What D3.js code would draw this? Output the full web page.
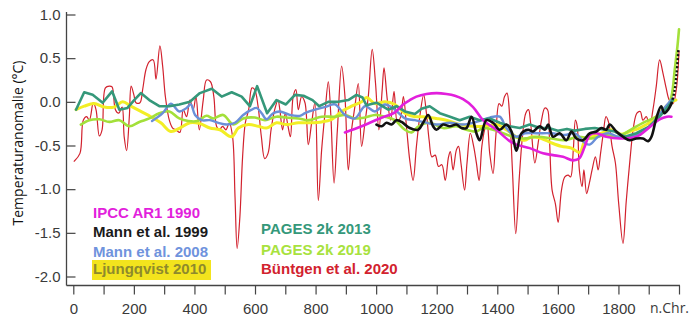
<!DOCTYPE html>
<html>
<head>
<meta charset="utf-8">
<script src="https://cdn.jsdelivr.net/npm/d3@7/dist/d3.min.js"></script>
<style>
  html, body { margin: 0; padding: 0; background: #fff; }
  svg { display: block; }
  .tick text { font-family: "Liberation Sans", Arial, sans-serif; font-size: 15px; fill: #3a3a3a; }
  .tick line { stroke: #444; stroke-width: 1.2; }
  .legend text { font-family: "Liberation Sans", Arial, sans-serif; font-size: 15px; font-weight: bold; }
</style>
</head>
<body>
<svg id="chart" width="700" height="329"></svg>
<script>
// Temperature reconstructions, anomaly in °C, [year, value]
const buentgen2020 = [
  [3,-0.68],[22,-0.59],[33,-0.21],[44,-0.17],[53,-0.21],[66,-0.01],[75,-0.09],[86,-0.39],[95,-0.32],
  [106,0.16],[119,0.18],[128,0.17],[139,-0.09],[150,-0.13],[161,-0.06],[168,-0.40],[176,-0.56],[185,-0.17],
  [191,0.18],[200,0.08],[207,-0.01],[220,-0.01],[229,0.14],[240,0.37],[251,0.46],[264,0.48],[273,0.26],
  [286,0.64],[295,0.41],[304,0.06],[317,-0.21],[328,-0.30],[339,-0.32],[352,-0.35],[363,-0.09],[374,-0.17],
  [385,0.02],[396,-0.09],[405,0.06],[416,-0.32],[429,0.02],[440,0.25],[453,0.23],[464,0.06],[473,-0.28],
  [482,-0.32],[493,-0.28],[504,-0.32],[515,-0.24],[526,-0.40],[534,-1.09],[541,-1.68],[550,-1.32],[559,-0.63],
  [568,-0.24],[579,-0.09],[590,0.16],[599,0.14],[610,-0.05],[621,-0.40],[632,-0.65],[643,-0.59],[653,-0.32],
  [665,-0.09],[676,0.02],[682,-0.09],[691,-0.32],[700,-0.13],[709,-0.28],[717,-0.40],[726,0.06],[735,0.14],
  [743,-0.09],[754,0.06],[765,-0.01],[776,-0.49],[787,-0.24],[798,-0.01],[809,-1.13],[820,-0.55],[831,-0.13],
  [842,0.23],[850,-0.13],[861,-0.93],[872,-0.32],[886,0.41],[897,0.06],[908,-0.78],[919,-0.32],[930,-0.05],
  [941,0.21],[952,-0.51],[963,-0.24],[974,0.06],[987,0.60],[998,0.21],[1009,-0.32],[1020,0.14],[1026,0.39],
  [1037,0.02],[1048,-0.21],[1059,0.12],[1070,-0.24],[1081,-0.17],[1090,0.06],[1101,-0.32],[1111,-0.67],
  [1122,-0.90],[1133,-0.51],[1144,-0.17],[1157,0.08],[1166,-0.13],[1175,-0.44],[1184,-0.63],[1195,-0.61],
  [1206,-0.74],[1217,-0.72],[1228,-0.90],[1239,-0.63],[1245,-0.57],[1254,-0.78],[1265,-0.55],[1272,-0.51],
  [1280,-0.70],[1292,-1.01],[1300,-0.70],[1311,-0.36],[1322,-0.51],[1331,-0.70],[1340,-0.90],[1349,-0.51],
  [1358,-0.32],[1366,-0.24],[1375,-0.59],[1386,-0.82],[1395,-0.40],[1406,-0.02],[1415,-0.05],[1424,0.06],
  [1432,0.10],[1441,-0.17],[1450,-0.78],[1461,-1.51],[1472,-0.90],[1483,-0.40],[1494,-0.13],[1503,-0.09],
  [1510,-0.24],[1524,-0.70],[1535,-0.47],[1546,-0.21],[1557,-0.07],[1566,-0.09],[1572,-0.40],[1581,-1.01],
  [1592,-1.17],[1601,-1.38],[1612,-1.01],[1623,-0.86],[1634,-0.84],[1642,-0.86],[1651,-0.55],[1658,-0.21],
  [1664,-0.28],[1671,-0.78],[1680,-0.97],[1686,-0.78],[1695,-1.05],[1704,-0.93],[1713,-0.78],[1724,-0.63],
  [1733,-0.78],[1741,-0.59],[1750,-0.36],[1759,-0.17],[1768,-0.24],[1779,-0.51],[1790,-0.70],[1801,-1.17],
  [1815,-1.62],[1826,-1.13],[1839,-0.63],[1850,-0.28],[1861,-0.13],[1872,-0.11],[1881,-0.21],[1892,-0.17],
  [1903,-0.28],[1914,-0.09],[1925,0.18],[1936,0.48],[1947,0.33],[1958,0.15],[1968,0.02],[1980,-0.02],
  [1991,0.14],[2000,0.58]
];

const pages2013 = [
  [9,-0.09],[36,0.11],[64,0.08],[97,-0.01],[128,0.12],[152,-0.09],[179,-0.07],[201,0.02],[223,0.10],
  [251,0.02],[284,-0.05],[317,-0.05],[350,-0.03],[385,0.00],[418,0.10],[457,0.15],[490,0.06],[523,0.11],
  [556,0.06],[583,-0.05],[607,0.18],[640,-0.13],[671,0.02],[702,-0.03],[732,0.08],[760,0.07],[790,0.02],
  [812,-0.05],[842,0.00],[875,0.00],[908,0.02],[935,0.08],[955,0.05],[968,-0.04],[1001,-0.01],[1040,-0.09],
  [1067,-0.05],[1095,-0.11],[1128,-0.14],[1150,-0.08],[1177,-0.05],[1210,-0.13],[1244,-0.17],[1276,-0.21],
  [1309,-0.17],[1342,-0.21],[1375,-0.19],[1408,-0.24],[1441,-0.28],[1474,-0.30],[1507,-0.26],[1540,-0.30],
  [1570,-0.30],[1600,-0.33],[1630,-0.31],[1656,-0.33],[1689,-0.31],[1722,-0.30],[1755,-0.32],[1788,-0.34],
  [1821,-0.40],[1859,-0.36],[1903,-0.28],[1936,-0.17],[1964,-0.05],[1980,0.02]
];

const pages2019 = [
  [25,-0.26],[53,-0.21],[86,-0.20],[119,-0.23],[152,-0.21],[185,-0.28],[218,-0.23],[251,-0.19],[284,-0.13],
  [317,-0.11],[350,-0.19],[380,-0.22],[410,-0.22],[440,-0.16],[462,-0.19],[495,-0.15],[528,-0.26],[561,-0.19],
  [600,-0.18],[633,-0.21],[671,-0.17],[704,-0.18],[743,-0.19],[776,-0.21],[820,-0.17],[864,-0.17],[897,-0.15],
  [930,-0.19],[963,-0.18],[996,-0.15],[1029,-0.17],[1062,-0.21],[1095,-0.32],[1117,-0.35],[1140,-0.28],
  [1177,-0.24],[1221,-0.30],[1265,-0.28],[1298,-0.32],[1331,-0.34],[1353,-0.30],[1386,-0.32],[1419,-0.36],
  [1452,-0.40],[1485,-0.42],[1535,-0.40],[1579,-0.42],[1623,-0.44],[1667,-0.40],[1711,-0.42],[1755,-0.38],
  [1799,-0.40],[1840,-0.32],[1881,-0.24],[1925,-0.17],[1958,-0.09],[1975,0.06],[1986,0.37],[1995,0.64],
  [2000,0.83]
];

const ljungqvist2010 = [
  [9,-0.09],[36,-0.05],[69,-0.02],[102,-0.06],[135,-0.06],[163,0.00],[190,-0.05],[223,-0.11],[256,-0.17],
  [289,-0.24],[322,-0.34],[352,-0.30],[385,-0.24],[418,-0.25],[451,-0.30],[484,-0.32],[523,-0.40],[545,-0.30],
  [578,-0.26],[611,-0.28],[638,-0.30],[671,-0.24],[704,-0.26],[743,-0.24],[776,-0.24],[820,-0.23],[853,-0.20],
  [886,-0.11],[919,-0.05],[952,0.00],[968,0.05],[996,-0.02],[1029,0.00],[1062,-0.03],[1095,-0.13],[1128,-0.17],
  [1155,-0.17],[1199,-0.19],[1232,-0.21],[1276,-0.26],[1320,-0.28],[1364,-0.28],[1397,-0.26],[1430,-0.32],
  [1463,-0.40],[1491,-0.44],[1513,-0.40],[1546,-0.42],[1579,-0.47],[1612,-0.51],[1645,-0.53],[1672,-0.58],
  [1690,-0.44],[1711,-0.40],[1744,-0.36],[1777,-0.32],[1810,-0.37],[1837,-0.34],[1870,-0.30],[1914,-0.21],
  [1947,-0.09],[1975,0.00],[1990,0.02]
];

const mann2008 = [
  [260,-0.22],[295,-0.13],[322,-0.02],[350,-0.11],[374,-0.07],[388,-0.03],[402,-0.15],[424,-0.21],[451,-0.21],
  [479,-0.24],[506,-0.26],[534,-0.24],[561,-0.15],[589,-0.09],[605,-0.07],[622,-0.13],[638,-0.20],[660,-0.13],
  [682,-0.11],[715,-0.15],[748,-0.16],[765,-0.13],[798,-0.09],[831,-0.06],[864,-0.03],[897,-0.15],[930,-0.19],
  [963,-0.05],[996,-0.11],[1029,-0.03],[1062,-0.09],[1095,-0.19],[1128,-0.21],[1155,-0.23],[1199,-0.26],
  [1243,-0.24],[1287,-0.26],[1331,-0.23],[1375,-0.18],[1408,-0.17],[1430,-0.30],[1463,-0.40],[1491,-0.36],
  [1535,-0.36],[1579,-0.36],[1623,-0.38],[1656,-0.36],[1689,-0.47],[1705,-0.49],[1733,-0.40],[1766,-0.36],
  [1799,-0.40],[1815,-0.40],[1859,-0.38],[1903,-0.28],[1947,-0.09],[1969,0.00],[1980,0.04]
];

const mann1999 = [
  [1001,-0.26],[1018,-0.28],[1034,-0.24],[1051,-0.26],[1067,-0.21],[1084,-0.23],[1111,-0.30],[1139,-0.32],
  [1155,-0.24],[1172,-0.15],[1188,-0.28],[1199,-0.32],[1221,-0.26],[1243,-0.28],[1265,-0.26],[1282,-0.30],
  [1298,-0.30],[1315,-0.17],[1331,-0.36],[1342,-0.44],[1364,-0.21],[1386,-0.24],[1408,-0.32],[1430,-0.26],
  [1447,-0.34],[1463,-0.56],[1480,-0.36],[1502,-0.32],[1518,-0.34],[1540,-0.28],[1557,-0.32],[1568,-0.26],
  [1584,-0.40],[1606,-0.36],[1628,-0.44],[1645,-0.34],[1661,-0.42],[1683,-0.44],[1705,-0.36],[1727,-0.34],
  [1744,-0.30],[1760,-0.32],[1771,-0.26],[1793,-0.34],[1815,-0.40],[1837,-0.44],[1859,-0.42],[1881,-0.42],
  [1898,-0.45],[1909,-0.40],[1925,-0.19],[1941,-0.05],[1952,-0.13],[1964,-0.09],[1975,-0.02]
];

// instrumental continuation of the 1999 series (dotted)
const mann1999Instrumental = [
  [1975,-0.02],[1985,0.12],[1992,0.32],[1998,0.60]
];

const ipcc1990 = [
  [897,-0.35],[952,-0.28],[1012,-0.19],[1062,-0.12],[1089,-0.03],[1111,0.02],[1133,0.06],[1166,0.09],
  [1200,0.10],[1232,0.09],[1260,0.07],[1287,0.03],[1320,-0.06],[1353,-0.21],[1397,-0.32],[1441,-0.45],
  [1463,-0.49],[1507,-0.53],[1551,-0.59],[1584,-0.61],[1617,-0.63],[1650,-0.67],[1670,-0.65],[1689,-0.51],
  [1705,-0.38],[1727,-0.36],[1760,-0.40],[1804,-0.42],[1859,-0.40],[1903,-0.29],[1936,-0.20],[1960,-0.17],
  [1975,-0.17]
];

const yTicks = [1.0, 0.5, 0.0, -0.5, -1.0, -1.5, -2.0];
const xTicks = d3.range(0, 2001, 100);
const xLabels = {0:"0",200:"200",400:"400",600:"600",800:"800",1000:"1000",1200:"1200",1400:"1400",1600:"1600",1800:"1800",2000:"n.Chr."};

const legendLeft = [
  {name: "IPCC AR1 1990", color: "#e21fdc"},
  {name: "Mann et al. 1999", color: "#1a1a1a"},
  {name: "Mann et al. 2008", color: "#6f93dd"},
  {name: "Ljungqvist 2010", color: "#8e8a2c", bg: "#f3e41d"}
];
const legendRight = [
  {name: "PAGES 2k 2013", color: "#35987a"},
  {name: "PAGES 2k 2019", color: "#a8e23e"},
  {name: "Büntgen et al. 2020", color: "#d2222e"}
];

const svg = d3.select("#chart");
const x = d3.scaleLinear().domain([0, 2000]).range([73.3, 679]);
const y = d3.scaleLinear().domain([-2, 1]).range([276.5, 14.5]);

const axisX = 66.5, axisY = 285.5;

// y axis: inward ticks
const gy = svg.append("g").attr("transform", `translate(${axisX},0)`)
  .call(d3.axisLeft(y).tickValues(yTicks).tickFormat(d3.format(".1f"))
    .tickSizeInner(-9).tickSizeOuter(0).tickPadding(6));
gy.select(".domain").remove();
gy.selectAll(".tick text").text(d => d3.format(".1f")(d).replace("−", "-"));

// x axis: outward ticks
const gx = svg.append("g").attr("transform", `translate(0,${axisY})`)
  .call(d3.axisBottom(x).tickValues(xTicks).tickFormat(d => xLabels[d] || "")
    .tickSizeInner(9).tickSizeOuter(0).tickPadding(9));
gx.select(".domain").remove();
gx.selectAll(".tick text").filter(d => d === 2000)
  .attr("dx", -10).style("font-family", "'Open Sans', sans-serif").style("font-size", "14px");

svg.append("line").attr("x1", axisX).attr("x2", axisX).attr("y1", 12).attr("y2", axisY)
  .attr("stroke", "#444").attr("stroke-width", 1.3);
svg.append("line").attr("x1", axisX).attr("x2", 680).attr("y1", axisY).attr("y2", axisY)
  .attr("stroke", "#444").attr("stroke-width", 1.3);

// y axis title
svg.append("text")
  .attr("transform", "translate(23,143) rotate(-90)")
  .attr("text-anchor", "middle")
  .style("font-family", "'Open Sans', sans-serif").style("font-size", "14px").style("fill", "#111")
  .text("Temperaturanomalie (°C)");

const smooth = d3.line().x(d => x(d[0])).y(d => y(d[1])).curve(d3.curveCatmullRom.alpha(0.5));
const straight = d3.line().x(d => x(d[0])).y(d => y(d[1])).curve(d3.curveLinear);

const plot = svg.append("g").attr("fill", "none").attr("stroke-linejoin", "round").attr("stroke-linecap", "round");

plot.append("path").datum(buentgen2020).attr("d", smooth).attr("stroke", "#d2222e").attr("stroke-width", 1.2);
plot.append("path").datum(ljungqvist2010).attr("d", smooth).attr("stroke", "#f2ee25").attr("stroke-width", 3);
plot.append("path").datum(pages2019).attr("d", smooth).attr("stroke", "#a3e03a").attr("stroke-width", 2.6);
plot.append("path").datum(mann2008).attr("d", smooth).attr("stroke", "#6a8fd8").attr("stroke-width", 2.4);
plot.append("path").datum(pages2013).attr("d", straight).attr("stroke", "#35987a").attr("stroke-width", 2.6);
plot.append("path").datum(ipcc1990).attr("d", smooth).attr("stroke", "#e21fdc").attr("stroke-width", 2.6);
plot.append("path").datum(mann1999).attr("d", smooth).attr("stroke", "#111").attr("stroke-width", 2.6);
plot.append("path").datum(mann1999Instrumental).attr("d", smooth).attr("stroke", "#111")
  .attr("stroke-width", 2.4).attr("stroke-dasharray", "2,2").attr("stroke-linecap", "butt");

// legend
const lg = svg.append("g").attr("class", "legend");
const leftBase = [217.5, 237, 256.5, 274];
legendLeft.forEach((d, i) => {
  if (d.bg) {
    lg.append("rect").attr("x", 92).attr("y", leftBase[i] - 14).attr("width", 119).attr("height", 20).attr("fill", d.bg);
  }
  lg.append("text").attr("x", 93).attr("y", leftBase[i]).style("fill", d.color).text(d.name);
});
const rightBase = [233.5, 255, 274];
legendRight.forEach((d, i) => {
  lg.append("text").attr("x", 261).attr("y", rightBase[i]).style("fill", d.color).text(d.name);
});
</script>
</body>
</html>
